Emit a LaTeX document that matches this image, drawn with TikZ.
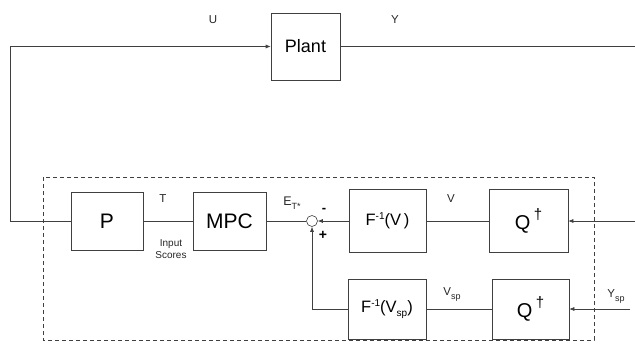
\documentclass[tikz,border=0pt]{standalone}
\usepackage{fontspec}
\setmainfont{Liberation Sans}
\usetikzlibrary{arrows.meta,calc}
\begin{document}
\begin{tikzpicture}[x=1pt,y=-1pt,
  ln/.style={draw=black!75,line width=0.6pt},
  arr/.style={ln,-{Latex[length=5pt,width=4pt]}},
  blk/.style={draw=black!75,line width=0.6pt,rectangle,inner sep=0pt},
  lbl/.style={font=\fontsize{11.5}{11.5}\selectfont,text=black!85},
  big/.style={font=\fontsize{21}{21}\selectfont},
  mid/.style={font=\fontsize{16.5}{16.5}\selectfont}]
\useasboundingbox (0,0) rectangle (635,351);
% dashed controller frame
\draw[draw=black!75,line width=0.6pt,dash pattern=on 4pt off 3pt] (43,177) rectangle (594,340);
% blocks
\node[blk,minimum width=69pt,minimum height=67pt,font=\fontsize{18}{18}\selectfont] (plant) at (305.5,46.5) {Plant};
\node[blk,big,minimum width=72pt,minimum height=58pt] (P) at (107,221) {P};
\node[blk,big,minimum width=73pt,minimum height=58pt] (mpc) at (229.5,221) {MPC};
\node[blk,mid,minimum width=77pt,minimum height=63pt] (f1) at (387.5,221) {F\raisebox{6pt}{\fontsize{10}{10}\selectfont -1}(V\,)};
\node[blk,minimum width=79pt,minimum height=63pt] (q1) at (528.5,221) {\fontsize{20}{20}\selectfont Q\,\raisebox{10pt}{\fontsize{15}{15}\selectfont †}};
\node[blk,mid,minimum width=78pt,minimum height=60pt] (f2) at (387,309) {F\raisebox{6pt}{\fontsize{10}{10}\selectfont -1}(V\raisebox{-4pt}{\fontsize{10}{10}\selectfont sp})};
\node[blk,minimum width=77pt,minimum height=60pt] (q2) at (530.5,309) {\fontsize{20}{20}\selectfont Q\,\raisebox{10pt}{\fontsize{15}{15}\selectfont †}};
\node[draw=black!75,line width=0.6pt,circle,minimum size=11pt,inner sep=0pt] (sum) at (312,221) {};
% free ends
\coordinate (lc) at (10,221);
\coordinate (yend) at (635,46.5);
\coordinate (vin) at (635,221);
\coordinate (yspin) at (630,309);
% connectors
\draw[arr] (P.west) -- (lc) |- (plant.west);
\draw[ln] (plant.east) -- (yend);
\draw[ln] (P.east) -- (mpc.west);
\draw[ln] (mpc.east) -- (sum.west);
\draw[arr] (f1.west) -- (sum.east);
\draw[arr] (f2.west) -| (sum.south);
\draw[ln] (q1.west) -- (f1.east);
\draw[ln] (q2.west) -- (f2.east);
\draw[arr] (vin) -- (q1.east);
\draw[arr] (yspin) -- (q2.east);
% labels
\node[lbl] (lu) at (213,20) {U};
\node[lbl] (ly) at (395,20) {Y};
\node[lbl] (lt) at (163,199) {T};
\node[font=\fontsize{10}{11.5}\selectfont,align=center,text=black!85] (lis) at (171,249) {Input\\Scores};
\node[lbl,font=\fontsize{12.5}{12.5}\selectfont] (le) at (292,203) {E\raisebox{-3.5pt}{\fontsize{9}{9}\selectfont T*}};
\node[font=\fontsize{13}{13}\selectfont\bfseries] (lm) at (324,210) {-};
\node[font=\fontsize{14}{14}\selectfont\bfseries] (lp) at (323,235) {+};
\node[lbl] (lv) at (451,199) {V};
\node[lbl] (lvsp) at (452,294) {V\raisebox{-4pt}{\fontsize{9}{9}\selectfont sp}};
\node[lbl] (lysp) at (616,296) {Y\raisebox{-4pt}{\fontsize{9}{9}\selectfont sp}};
\end{tikzpicture}
\end{document}
